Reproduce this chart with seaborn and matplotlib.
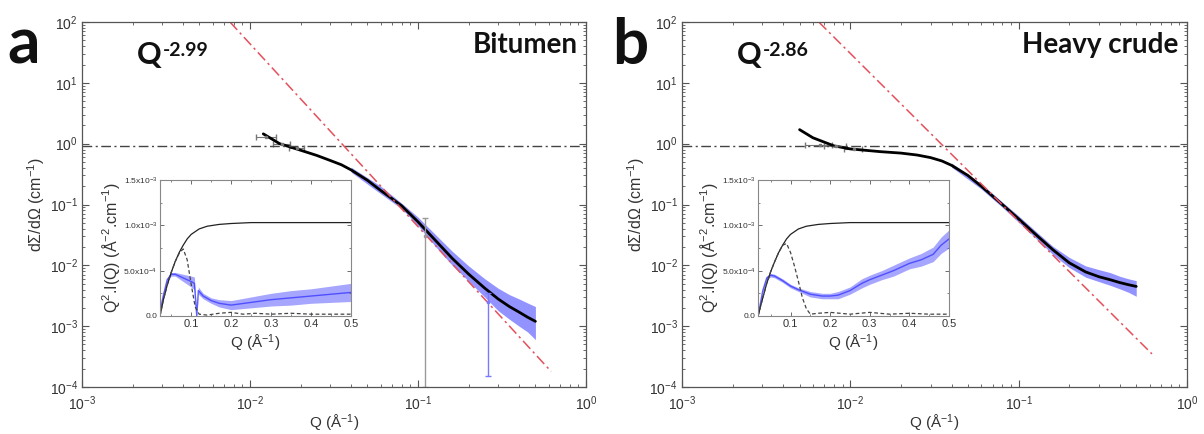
# Libraries
# ===================================================
import numpy as np
import pandas as pd
import seaborn as sns
import matplotlib.pyplot as plt
from matplotlib.ticker import (FixedLocator, FixedFormatter, NullFormatter,
                               LogFormatterSciNotation)

# Data
# ===================================================
# Main panels: model fit (black line)
q_fit_a = [0.012, 0.015, 0.02, 0.025, 0.03, 0.035, 0.04, 0.05, 0.06, 0.07, 0.08, 0.1, 0.13, 0.16, 0.2, 0.25, 0.3, 0.35, 0.4, 0.45, 0.5]
i_fit_a = [1.45, 1.0, 0.78, 0.64, 0.53, 0.45, 0.37, 0.25, 0.17, 0.125, 0.095, 0.052, 0.024, 0.013, 0.0072, 0.0042, 0.0028, 0.0021, 0.0017, 0.0014, 0.0012]
q_fit_b = [0.005, 0.006, 0.008, 0.01, 0.015, 0.02, 0.025, 0.03, 0.035, 0.04, 0.05, 0.06, 0.08, 0.1, 0.13, 0.16, 0.2, 0.25, 0.3, 0.35, 0.4, 0.45, 0.5]
i_fit_b = [1.7, 1.25, 0.92, 0.82, 0.74, 0.7, 0.65, 0.59, 0.52, 0.44, 0.3, 0.2, 0.1, 0.058, 0.03, 0.018, 0.011, 0.0078, 0.0065, 0.0058, 0.0052, 0.0048, 0.0045]

# Main panels: spread of the measured points (blue)
q_band = [0.04, 0.06, 0.08, 0.1, 0.13, 0.16, 0.2, 0.25, 0.3, 0.35, 0.4, 0.45, 0.5]
lo_band_a = [0.34, 0.15, 0.085, 0.045, 0.019, 0.010, 0.0055, 0.0030, 0.0018, 0.0013, 0.0010, 0.0008, 0.0006]
hi_band_a = [0.41, 0.20, 0.105, 0.062, 0.030, 0.017, 0.0098, 0.0060, 0.0042, 0.0033, 0.0028, 0.0024, 0.0021]
lo_band_b = [0.41, 0.18, 0.09, 0.051, 0.026, 0.0150, 0.0092, 0.0064, 0.0054, 0.0047, 0.0041, 0.0036, 0.0031]
hi_band_b = [0.48, 0.22, 0.11, 0.065, 0.034, 0.0205, 0.0135, 0.0098, 0.0085, 0.0076, 0.0066, 0.0060, 0.0056]

# Low-Q points with horizontal error bars (grey)
q_low_a = [0.0125, 0.0155, 0.019]
i_low_a = [1.3, 1.0, 0.85]
dq_low_a = [0.0017, 0.0018, 0.002]
q_low_b = [0.0066, 0.0082, 0.0105]
i_low_b = [0.95, 0.9, 0.82]
dq_low_b = [0.0012, 0.0012, 0.0013]

# Large vertical error bars in panel a
q_bar_a = [0.11, 0.26]
i_bar_a = [0.03, 0.0025]
lo_bar_a = [0.0001, 0.00015]
hi_bar_a = [0.06, 0.0035]
bar_colors_a = ['#9a9a9a', '#7a7aff']

# Power-law guide lines (red)
q_pl_a = [0.0076, 0.62]
i_pl_a = [100, 1.8e-4]
q_pl_b = [0.0065, 0.62]
i_pl_b = [100, 3.5e-4]
plateau = 0.9
exponent_a = '-2.99'
exponent_b = '-2.86'

# Insets: Q^2.I(Q) in units of 1e-3
q_sol_a = [0.022, 0.03, 0.04, 0.05, 0.06, 0.07, 0.08, 0.09, 0.1, 0.12, 0.14, 0.17, 0.2, 0.25, 0.3, 0.4, 0.5]
y_sol_a = [0.0, 0.17, 0.34, 0.48, 0.60, 0.70, 0.78, 0.85, 0.90, 0.96, 0.99, 1.01, 1.02, 1.03, 1.03, 1.03, 1.03]
q_das_a = [0.022, 0.03, 0.04, 0.05, 0.06, 0.07, 0.08, 0.09, 0.1, 0.11, 0.12, 0.14, 0.17, 0.2, 0.23, 0.26, 0.3, 0.35, 0.4, 0.45, 0.5]
y_das_a = [0.0, 0.17, 0.34, 0.48, 0.60, 0.69, 0.74, 0.62, 0.35, 0.10, 0.02, 0.01, 0.03, 0.04, 0.02, 0.03, 0.02, 0.03, 0.02, 0.02, 0.02]
q_blu_a = [0.022, 0.03, 0.04, 0.05, 0.06, 0.07, 0.08, 0.09, 0.1, 0.108, 0.114, 0.118, 0.13, 0.15, 0.17, 0.2, 0.25, 0.3, 0.35, 0.4, 0.45, 0.5]
y_blu_a = [0.05, 0.22, 0.40, 0.46, 0.46, 0.44, 0.42, 0.40, 0.38, 0.36, 0.0, 0.28, 0.22, 0.17, 0.14, 0.12, 0.15, 0.18, 0.20, 0.22, 0.24, 0.26]
e_blu_a = [0.01, 0.02, 0.02, 0.02, 0.02, 0.03, 0.04, 0.05, 0.06, 0.07, 0.0, 0.04, 0.03, 0.03, 0.04, 0.05, 0.06, 0.07, 0.08, 0.08, 0.09, 0.10]

q_sol_b = [0.018, 0.03, 0.04, 0.05, 0.06, 0.07, 0.08, 0.09, 0.1, 0.12, 0.14, 0.17, 0.2, 0.25, 0.3, 0.4, 0.5]
y_sol_b = [0.0, 0.20, 0.36, 0.49, 0.60, 0.70, 0.78, 0.85, 0.90, 0.96, 0.99, 1.01, 1.02, 1.03, 1.03, 1.03, 1.03]
q_das_b = [0.018, 0.03, 0.04, 0.05, 0.06, 0.07, 0.08, 0.09, 0.1, 0.11, 0.12, 0.13, 0.14, 0.15, 0.17, 0.2, 0.25, 0.3, 0.35, 0.4, 0.45, 0.5]
y_das_b = [0.0, 0.20, 0.36, 0.49, 0.60, 0.70, 0.78, 0.80, 0.70, 0.55, 0.38, 0.20, 0.08, 0.02, 0.03, 0.04, 0.02, 0.04, 0.02, 0.03, 0.02, 0.02]
q_blu_b = [0.018, 0.03, 0.04, 0.05, 0.06, 0.08, 0.1, 0.12, 0.15, 0.18, 0.2, 0.22, 0.25, 0.28, 0.3, 0.33, 0.36, 0.4, 0.43, 0.46, 0.48, 0.5]
y_blu_b = [0.0, 0.28, 0.42, 0.45, 0.44, 0.39, 0.33, 0.29, 0.24, 0.22, 0.22, 0.23, 0.28, 0.36, 0.40, 0.45, 0.50, 0.58, 0.62, 0.68, 0.78, 0.85]
e_blu_b = [0.01, 0.02, 0.02, 0.02, 0.02, 0.02, 0.02, 0.02, 0.03, 0.03, 0.03, 0.04, 0.04, 0.05, 0.05, 0.05, 0.06, 0.06, 0.07, 0.08, 0.09, 0.10]

# Axis ticks
x_decades = [-3, -2, -1, 0]
y_decades = [-4, -3, -2, -1, 0, 1, 2]
inset_xticks = [0.1, 0.2, 0.3, 0.4, 0.5]
inset_yticks = [0.0, 0.5, 1.0, 1.5]
inset_yticklabels = ['0.0', '5.0x10$^{-4}$', '1.0x10$^{-3}$', '1.5x10$^{-3}$']

# Data Visualization
# ===================================================
sns.set_theme(style='ticks')
plt.rcParams['font.family'] = ['Liberation Sans', 'DejaVu Sans']
plt.rcParams['mathtext.default'] = 'regular'

fig = plt.figure(figsize=(12.04, 4.34), dpi=100)

BLUE = '#3a3aff'
RED = '#e4505c'
SPINE = '#555555'
DASHDOT = (0, (7, 2.5, 1.5, 2.5))


def log_ticks(decades):
    major = [10.0 ** e for e in decades]
    minor = [m * 10.0 ** e for e in decades[:-1] for m in range(2, 10)]
    return major, minor


def style_axes(ax, size):
    for s in ax.spines.values():
        s.set_color(SPINE)
        s.set_linewidth(0.9)
    ax.tick_params(which='both', direction='in', top=True, right=True, colors=SPINE,
                   labelcolor='#333333', labelsize=size)


def main_panel(rect, q_fit, i_fit, lo_band, hi_band, q_low, i_low, dq_low, q_pl, i_pl,
               letter, letter_x, exponent, sample):
    ax = fig.add_axes(rect)
    ax.set_xscale('log')
    ax.set_yscale('log')

    # blue measured points
    ax.fill_between(q_band, lo_band, hi_band, color=BLUE, alpha=0.55, lw=0)
    # grey low-Q points
    ax.errorbar(q_low, i_low, xerr=dq_low, fmt='s', ms=2, color='#777777', elinewidth=0.8, capsize=2)
    # fit
    sns.lineplot(x=q_fit, y=i_fit, ax=ax, color='black', lw=2.0, estimator=None, sort=False)
    # guides
    ax.axhline(plateau, color='#444444', lw=1.0, linestyle=DASHDOT)
    sns.lineplot(x=q_pl, y=i_pl, ax=ax, color=RED, lw=1.1, linestyle=DASHDOT, estimator=None, sort=False)

    ax.set_xlim(1e-3, 1)
    ax.set_ylim(1e-4, 1e2)
    xmaj, xmin = log_ticks(x_decades)
    ymaj, ymin = log_ticks(y_decades)
    ax.xaxis.set_major_locator(FixedLocator(xmaj))
    ax.xaxis.set_minor_locator(FixedLocator(xmin))
    ax.yaxis.set_major_locator(FixedLocator(ymaj))
    ax.yaxis.set_minor_locator(FixedLocator(ymin))
    ax.xaxis.set_major_formatter(LogFormatterSciNotation())
    ax.yaxis.set_major_formatter(LogFormatterSciNotation())
    ax.xaxis.set_minor_formatter(NullFormatter())
    ax.yaxis.set_minor_formatter(NullFormatter())
    style_axes(ax, 10)
    ax.tick_params(which='major', length=5, width=0.8, pad=3)
    ax.tick_params(axis='x', which='major', pad=5)
    ax.tick_params(which='minor', length=2.5, width=0.6)

    ax.set_xlabel('Q (Å$^{-1}$)', fontsize=11, color='#333333', labelpad=0)
    ax.set_ylabel('dΣ/dΩ (cm$^{-1}$)', fontsize=11.5, color='#333333', labelpad=2)

    # annotations
    fig.text(letter_x, 0.853, letter, fontsize=46, fontweight='bold', family='Lato',
             color='#111111', va='baseline', ha='left')
    ax.text(0.108, 0.885, 'Q', transform=ax.transAxes, fontsize=22, fontweight='bold',
            family='Lato', color='#111111', va='baseline')
    ax.text(0.160, 0.908, exponent, transform=ax.transAxes, fontsize=14, fontweight='bold',
            family='Lato', color='#111111', va='baseline')
    ax.text(0.984, 0.915, sample, transform=ax.transAxes, fontsize=20, fontweight='bold',
            family='Lato', color='#111111', va='baseline', ha='right')
    return ax


def inset_panel(rect, q_sol, y_sol, q_das, y_das, q_blu, y_blu, e_blu, xmin):
    ax = fig.add_axes(rect)
    ax.set_facecolor('white')
    lo = np.array(y_blu) - np.array(e_blu)
    hi = np.array(y_blu) + np.array(e_blu)
    ax.fill_between(q_blu, lo, hi, color=BLUE, alpha=0.45, lw=0)
    sns.lineplot(x=q_blu, y=y_blu, ax=ax, color=BLUE, lw=1.0, alpha=0.8, estimator=None, sort=False)
    sns.lineplot(x=q_sol, y=y_sol, ax=ax, color='#222222', lw=0.9, estimator=None, sort=False)
    sns.lineplot(x=q_das, y=y_das, ax=ax, color='#444444', lw=0.9, linestyle=(0, (3, 2)),
                 estimator=None, sort=False)
    ax.set_xlim(xmin, 0.5)
    ax.set_ylim(0, 1.5)
    ax.xaxis.set_major_locator(FixedLocator(inset_xticks))
    ax.xaxis.set_minor_locator(FixedLocator([0.05, 0.15, 0.25, 0.35, 0.45]))
    ax.yaxis.set_major_locator(FixedLocator(inset_yticks))
    ax.yaxis.set_major_formatter(FixedFormatter(inset_yticklabels))
    ax.yaxis.set_minor_locator(FixedLocator([0.25, 0.75, 1.25]))
    style_axes(ax, 8)
    ax.tick_params(axis='y', labelsize=6)
    ax.tick_params(which='major', length=3, width=0.6, pad=2)
    ax.tick_params(which='minor', length=1.5, width=0.5)
    for s in ax.spines.values():
        s.set_color('#888888')
        s.set_linewidth(0.8)
    ax.set_xlabel('Q (Å$^{-1}$)', fontsize=11, color='#333333', labelpad=3)
    ax.set_ylabel('Q$^2$.I(Q) (Å$^{-2}$.cm$^{-1}$)', fontsize=11.5, color='#333333', labelpad=1)
    return ax


ax_a = main_panel([0.0681, 0.1083, 0.4186, 0.841], q_fit_a, i_fit_a, lo_band_a, hi_band_a,
                  q_low_a, i_low_a, dq_low_a, q_pl_a, i_pl_a, 'a', 0.006, exponent_a, 'Bitumen')
# large vertical error bars in panel a
for q, i, lo, hi, c in zip(q_bar_a, i_bar_a, lo_bar_a, hi_bar_a, bar_colors_a):
    ax_a.errorbar([q], [i], yerr=[[i - lo], [hi - i]], fmt='s', ms=2, color=c,
                  elinewidth=1.0, capsize=2)

ax_b = main_panel([0.5664, 0.1083, 0.4194, 0.841], q_fit_b, i_fit_b, lo_band_b, hi_band_b,
                  q_low_b, i_low_b, dq_low_b, q_pl_b, i_pl_b, 'b', 0.508, exponent_b, 'Heavy crude')

inset_panel([0.1329, 0.2719, 0.1586, 0.3134], q_sol_a, y_sol_a, q_das_a, y_das_a,
            q_blu_a, y_blu_a, e_blu_a, 0.022)
inset_panel([0.6296, 0.2719, 0.1586, 0.3134], q_sol_b, y_sol_b, q_das_b, y_das_b,
            q_blu_b, y_blu_b, e_blu_b, 0.018)

plt.savefig('out.png', dpi=100)
